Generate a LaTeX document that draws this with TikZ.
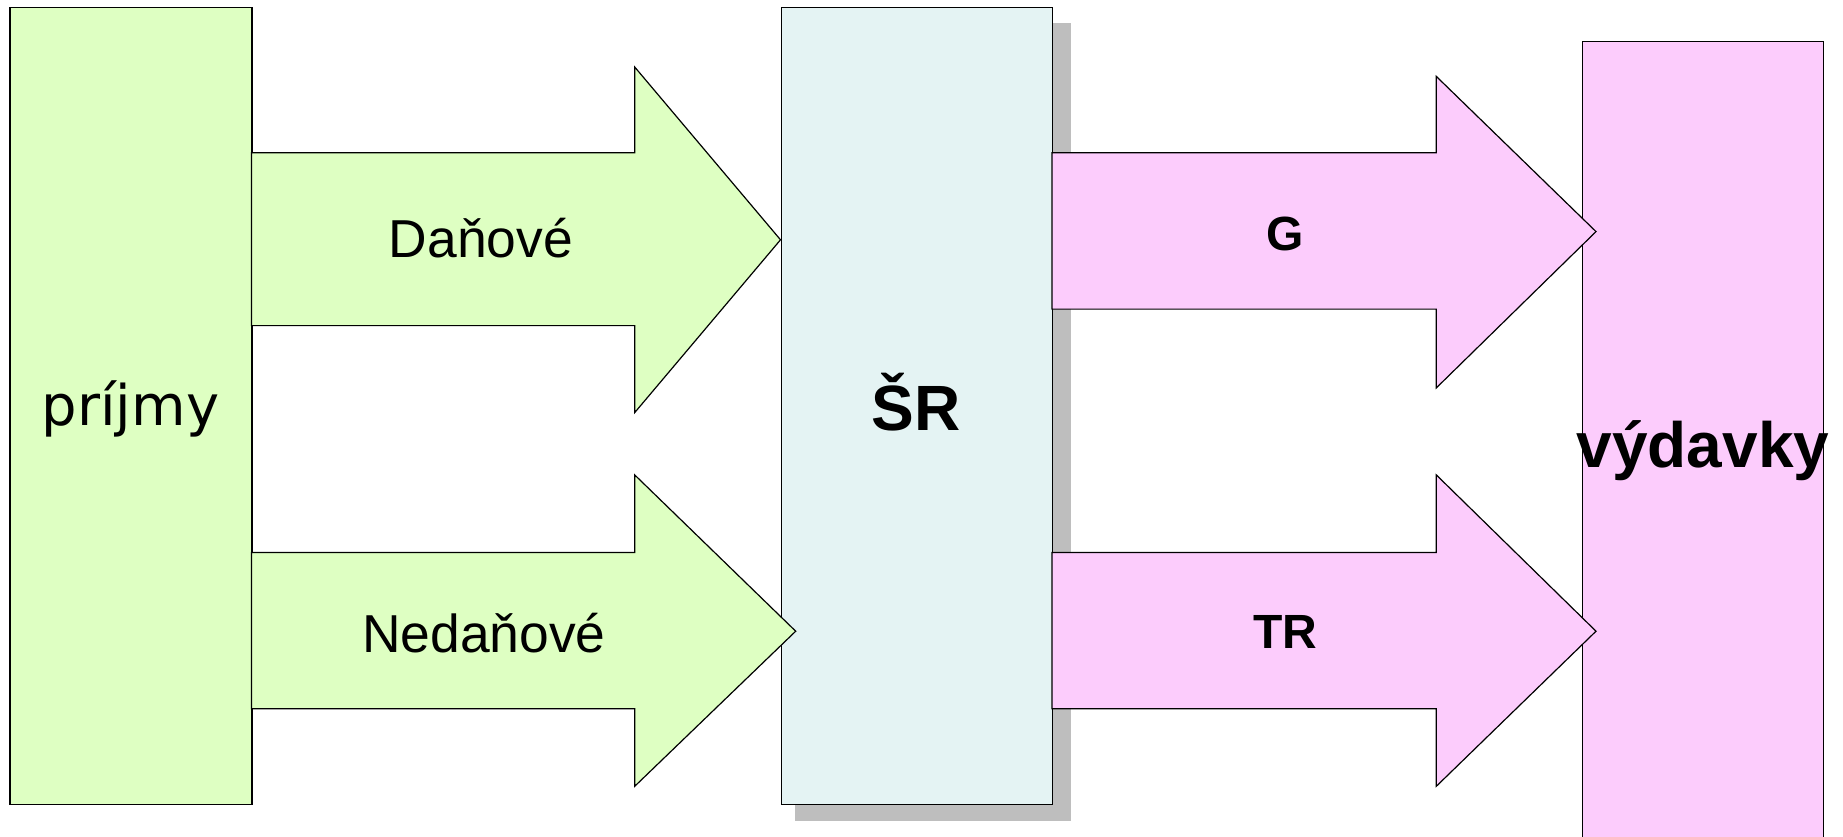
\documentclass[tikz,border=0pt]{standalone}
\usepackage{fontspec}
\setmainfont{Liberation Sans}
\newfontfamily\dejavu{DejaVu Sans}
\definecolor{grn}{RGB}{222,255,194}
\definecolor{pnk}{RGB}{252,204,252}
\definecolor{lblue}{RGB}{228,243,243}
\definecolor{shd}{RGB}{190,190,190}
\begin{document}
\begin{tikzpicture}[x=0.5pt,y=-0.5pt,
  box/.style={draw=black,line width=0.7pt,inner sep=0pt,anchor=north west},
  blockarrow/.style={draw=black,line width=0.6pt,line join=miter},
  lbl/.style={anchor=base,inner sep=0pt,text=black}]
\useasboundingbox (0,0) rectangle (1843,836);
\begin{scope}
\clip (0,0) rectangle (1843,836);
% boxes
\node[box,fill=grn,minimum width=121pt,minimum height=398.5pt] (prijmy) at (9.4,7) {};
\fill[shd] (795,23) rectangle (1071,821);
\node[box,fill=lblue,minimum width=135.75pt,minimum height=398.5pt] (sr) at (780.5,7) {};
\node[box,fill=pnk,minimum width=120.5pt,minimum height=460pt] (vyd) at (1582,41) {};
% block arrows
\draw[blockarrow,fill=grn] (251.5,152.8) -- (634.7,152.8) -- (634.7,67) -- (780.5,239.8) -- (634.7,412.6) -- (634.7,325.6) -- (251.5,325.6) -- cycle;
\draw[blockarrow,fill=grn] (251.5,552.4) -- (634.7,552.4) -- (634.7,474.9) -- (795.7,631.2) -- (634.7,786.3) -- (634.7,708.8) -- (251.5,708.8) -- cycle;
\draw[blockarrow,fill=pnk] (1052,152.8) -- (1436.3,152.8) -- (1436.3,76.4) -- (1596,231.6) -- (1436.3,387.9) -- (1436.3,309.1) -- (1052,309.1) -- cycle;
\draw[blockarrow,fill=pnk] (1052,552.4) -- (1436.3,552.4) -- (1436.3,474.9) -- (1596,631.2) -- (1436.3,786.3) -- (1436.3,708.8) -- (1052,708.8) -- cycle;
\end{scope}
% labels
\node[lbl,font=\dejavu\fontsize{28}{33}\selectfont] (tprijmy) at (130.5,425) {príjmy};
\node[lbl,font=\fontsize{26.7}{32}\selectfont] (tdan) at (481,257) {Daňové};
\node[lbl,font=\fontsize{26.7}{32}\selectfont] (tnedan) at (484,652) {Nedaňové};
\node[lbl,font=\bfseries\fontsize{32}{38}\selectfont] (tsr) at (916,430.7) {ŠR};
\node[lbl,font=\bfseries\fontsize{24}{29}\selectfont] (tg) at (1285,250) {G};
\node[lbl,font=\bfseries\fontsize{24}{29}\selectfont] (ttr) at (1285,648) {TR};
\node[lbl,font=\bfseries\fontsize{32}{38}\selectfont] (tvyd) at (1703,467) {výdavky};
\end{tikzpicture}
\end{document}
